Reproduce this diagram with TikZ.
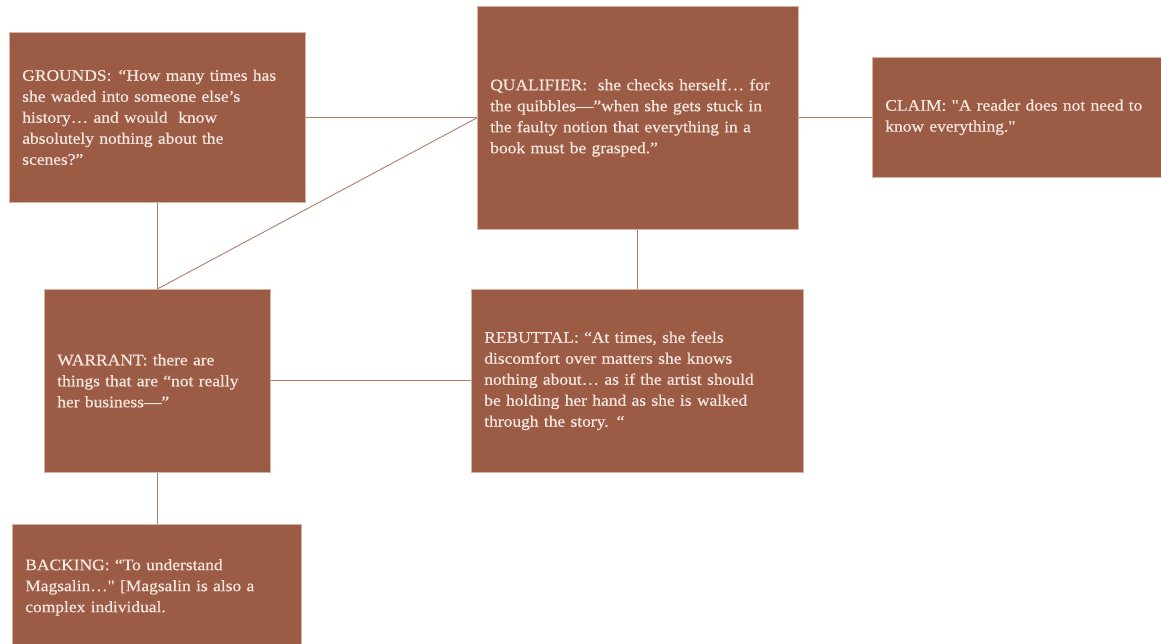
\documentclass[tikz,border=0pt]{standalone}
\usepackage{fontspec}
\setmainfont{Liberation Serif}[FakeStretch=1.09, FakeBold=0.6, Ligatures=TeXOff]
\definecolor{boxfill}{HTML}{9C5B45}
\definecolor{boxedge}{HTML}{D8B2A4}
\definecolor{linkcol}{HTML}{B27C6A}
\definecolor{inktext}{HTML}{F3E6DF}
\tikzset{
  stagebox/.style={draw=boxedge, line width=0.6pt, fill=boxfill, text=inktext,
    anchor=north west, align=left, inner xsep=13pt, inner ysep=0pt,
    font=\fontsize{16}{21}\selectfont},
  link/.style={draw=linkcol, line width=0.9pt}
}
\begin{document}
\begin{tikzpicture}[x=1pt,y=-1pt]
\useasboundingbox (0,0) rectangle (1161,643);
\fill[white] (0,0) rectangle (1161,643);

\node[stagebox, minimum width=296pt, minimum height=170pt, text width=270pt] (grounds) at (9,32)
  {GROUNDS: \textit{“}How many times has\\she waded into someone else’s\\history… and would\ \ know\\absolutely nothing about the\\scenes?”};
\node[stagebox, minimum width=321pt, minimum height=223pt, text width=295pt] (qualifier) at (477,6)
  {QUALIFIER:\ \ she checks herself… for\\the quibbles—”when she gets stuck in\\the faulty notion that everything in a\\book must be grasped.”};
\node[stagebox, minimum width=289pt, minimum height=120pt, text width=263pt] (claim) at (872,57)
  {CLAIM: "A reader does not need to\\know everything."};
\node[stagebox, minimum width=226pt, minimum height=183pt, text width=200pt] (warrant) at (44,289)
  {WARRANT: there are\\things that are “not really\\her business—”};
\node[stagebox, minimum width=332pt, minimum height=183pt, text width=306pt] (rebuttal) at (471,289)
  {REBUTTAL: “At times, she feels\\discomfort over matters she knows\\nothing about… as if the artist should\\be holding her hand as she is walked\\through the story. “};
\node[stagebox, minimum width=289pt, minimum height=126pt, text width=263pt] (backing) at (12,524)
  {BACKING: “To understand\\Magsalin…" [Magsalin is also a\\complex individual.};

\draw[link] (grounds.east) -- (grounds.east -| qualifier.west);
\draw[link] (qualifier.east) -- (qualifier.east -| claim.west);
\draw[link] (qualifier.south) -- (qualifier.south |- rebuttal.north);
\draw[link] (grounds.south) -- (grounds.south |- warrant.north);
\draw[link] (warrant.north) -- (qualifier.west);
\draw[link] (warrant.east) -- (rebuttal.west);
\draw[link] (warrant.south) -- (warrant.south |- backing.north);
\end{tikzpicture}
\end{document}
